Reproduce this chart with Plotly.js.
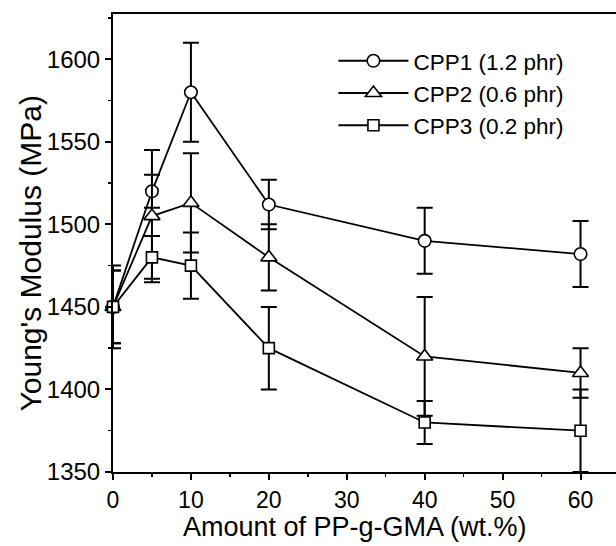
<!DOCTYPE html>
<html>
<head>
<meta charset="utf-8">
<script src="https://cdn.plot.ly/plotly-3.0.1.min.js"></script>
<style>
html,body{margin:0;padding:0;overflow:hidden;background:#fff;width:616px;height:546px;}
#chart{width:660px;height:546px;}
</style>
</head>
<body>
<div id="chart"></div>
<script>
// Data
const xAmount = [0, 5, 10, 20, 40, 60];            // PP-g-GMA content (wt.%)
const cpp1 = [1450, 1520, 1580, 1512, 1490, 1482];  // CPP1 (1.2 phr)
const cpp1Err = [25, 10, 30, 15, 20, 20];
const cpp2 = [1450, 1505, 1513, 1480, 1420, 1410];  // CPP2 (0.6 phr)
const cpp2Err = [22, 40, 30, 20, 36, 15];
const cpp3 = [1450, 1480, 1475, 1425, 1380, 1375];  // CPP3 (0.2 phr)
const cpp3Err = [22, 13, 20, 25, 13, 25];
const seriesNames = ['CPP1 (1.2 phr)', 'CPP2 (0.6 phr)', 'CPP3 (0.2 phr)'];
const xTickVals = [0, 10, 20, 30, 40, 50, 60];
const yTickVals = [1350, 1400, 1450, 1500, 1550, 1600];
const xTitle = 'Amount of PP-g-GMA (wt.%)';
const yTitle = "Young's Modulus (MPa)";

const FONT = 'Liberation Sans, Arial, sans-serif';

function mk(y, err, name, symbol, size) {
  return {
    x: xAmount, y: y, name: name, type: 'scatter', mode: 'lines+markers',
    line: {color: '#000', width: 1.8},
    marker: {symbol: symbol, size: size, color: '#fff', line: {color: '#000', width: 1.6}},
    error_y: {type: 'data', array: err, visible: true, color: '#000', thickness: 2, width: 8},
    cliponaxis: false
  };
}

const traces = [
  mk(cpp1, cpp1Err, seriesNames[0], 'circle', 12.5),
  mk(cpp2, cpp2Err, seriesNames[1], 'triangle-up', 14),
  mk(cpp3, cpp3Err, seriesNames[2], 'square', 11)
];

const layout = {
  width: 660, height: 546,
  margin: {l: 113, r: 0, t: 14, b: 74},
  paper_bgcolor: '#fff', plot_bgcolor: '#fff',
  font: {family: FONT, color: '#000', size: 24},
  showlegend: true,
  legend: {
    x: 0.403, y: 0.944, xanchor: 'left', yanchor: 'top',
    bgcolor: 'rgba(0,0,0,0)', font: {family: FONT, size: 22.5, color: '#000'},
    itemwidth: 70, tracegroupgap: 0
  },
  xaxis: {
    range: [0, 70.2], tickvals: xTickVals, ticktext: xTickVals.map(String),
    showgrid: false, zeroline: false, showline: true, linecolor: '#000', linewidth: 2, mirror: true,
    ticks: 'outside', ticklen: 6, tickwidth: 2, tickcolor: '#000',
    minor: {dtick: 5, ticks: 'outside', ticklen: 3, tickwidth: 1.5, tickcolor: '#000', showgrid: false},
    tickfont: {family: FONT, size: 23}
  },
  yaxis: {
    range: [1350, 1627.4], tickvals: yTickVals, ticktext: yTickVals.map(String),
    showgrid: false, zeroline: false, showline: true, linecolor: '#000', linewidth: 2, mirror: true,
    ticks: 'outside', ticklen: 6, tickwidth: 2, tickcolor: '#000',
    minor: {dtick: 25, tick0: 1350, ticks: 'outside', ticklen: 3, tickwidth: 1.5, tickcolor: '#000', showgrid: false},
    tickfont: {family: FONT, size: 24}
  },
  annotations: [{
    text: xTitle, xref: 'paper', yref: 'paper', x: 0.442, y: -0.12,
    xanchor: 'center', yanchor: 'middle', showarrow: false,
    font: {family: FONT, size: 27, color: '#000'}
  }, {
    text: yTitle, xref: 'paper', yref: 'paper', x: -0.151, y: 0.478, textangle: -90,
    xanchor: 'center', yanchor: 'middle', showarrow: false,
    font: {family: FONT, size: 30, color: '#000'}
  }]
};

Plotly.newPlot('chart', traces, layout, {displayModeBar: false, staticPlot: true});
</script>
</body>
</html>
